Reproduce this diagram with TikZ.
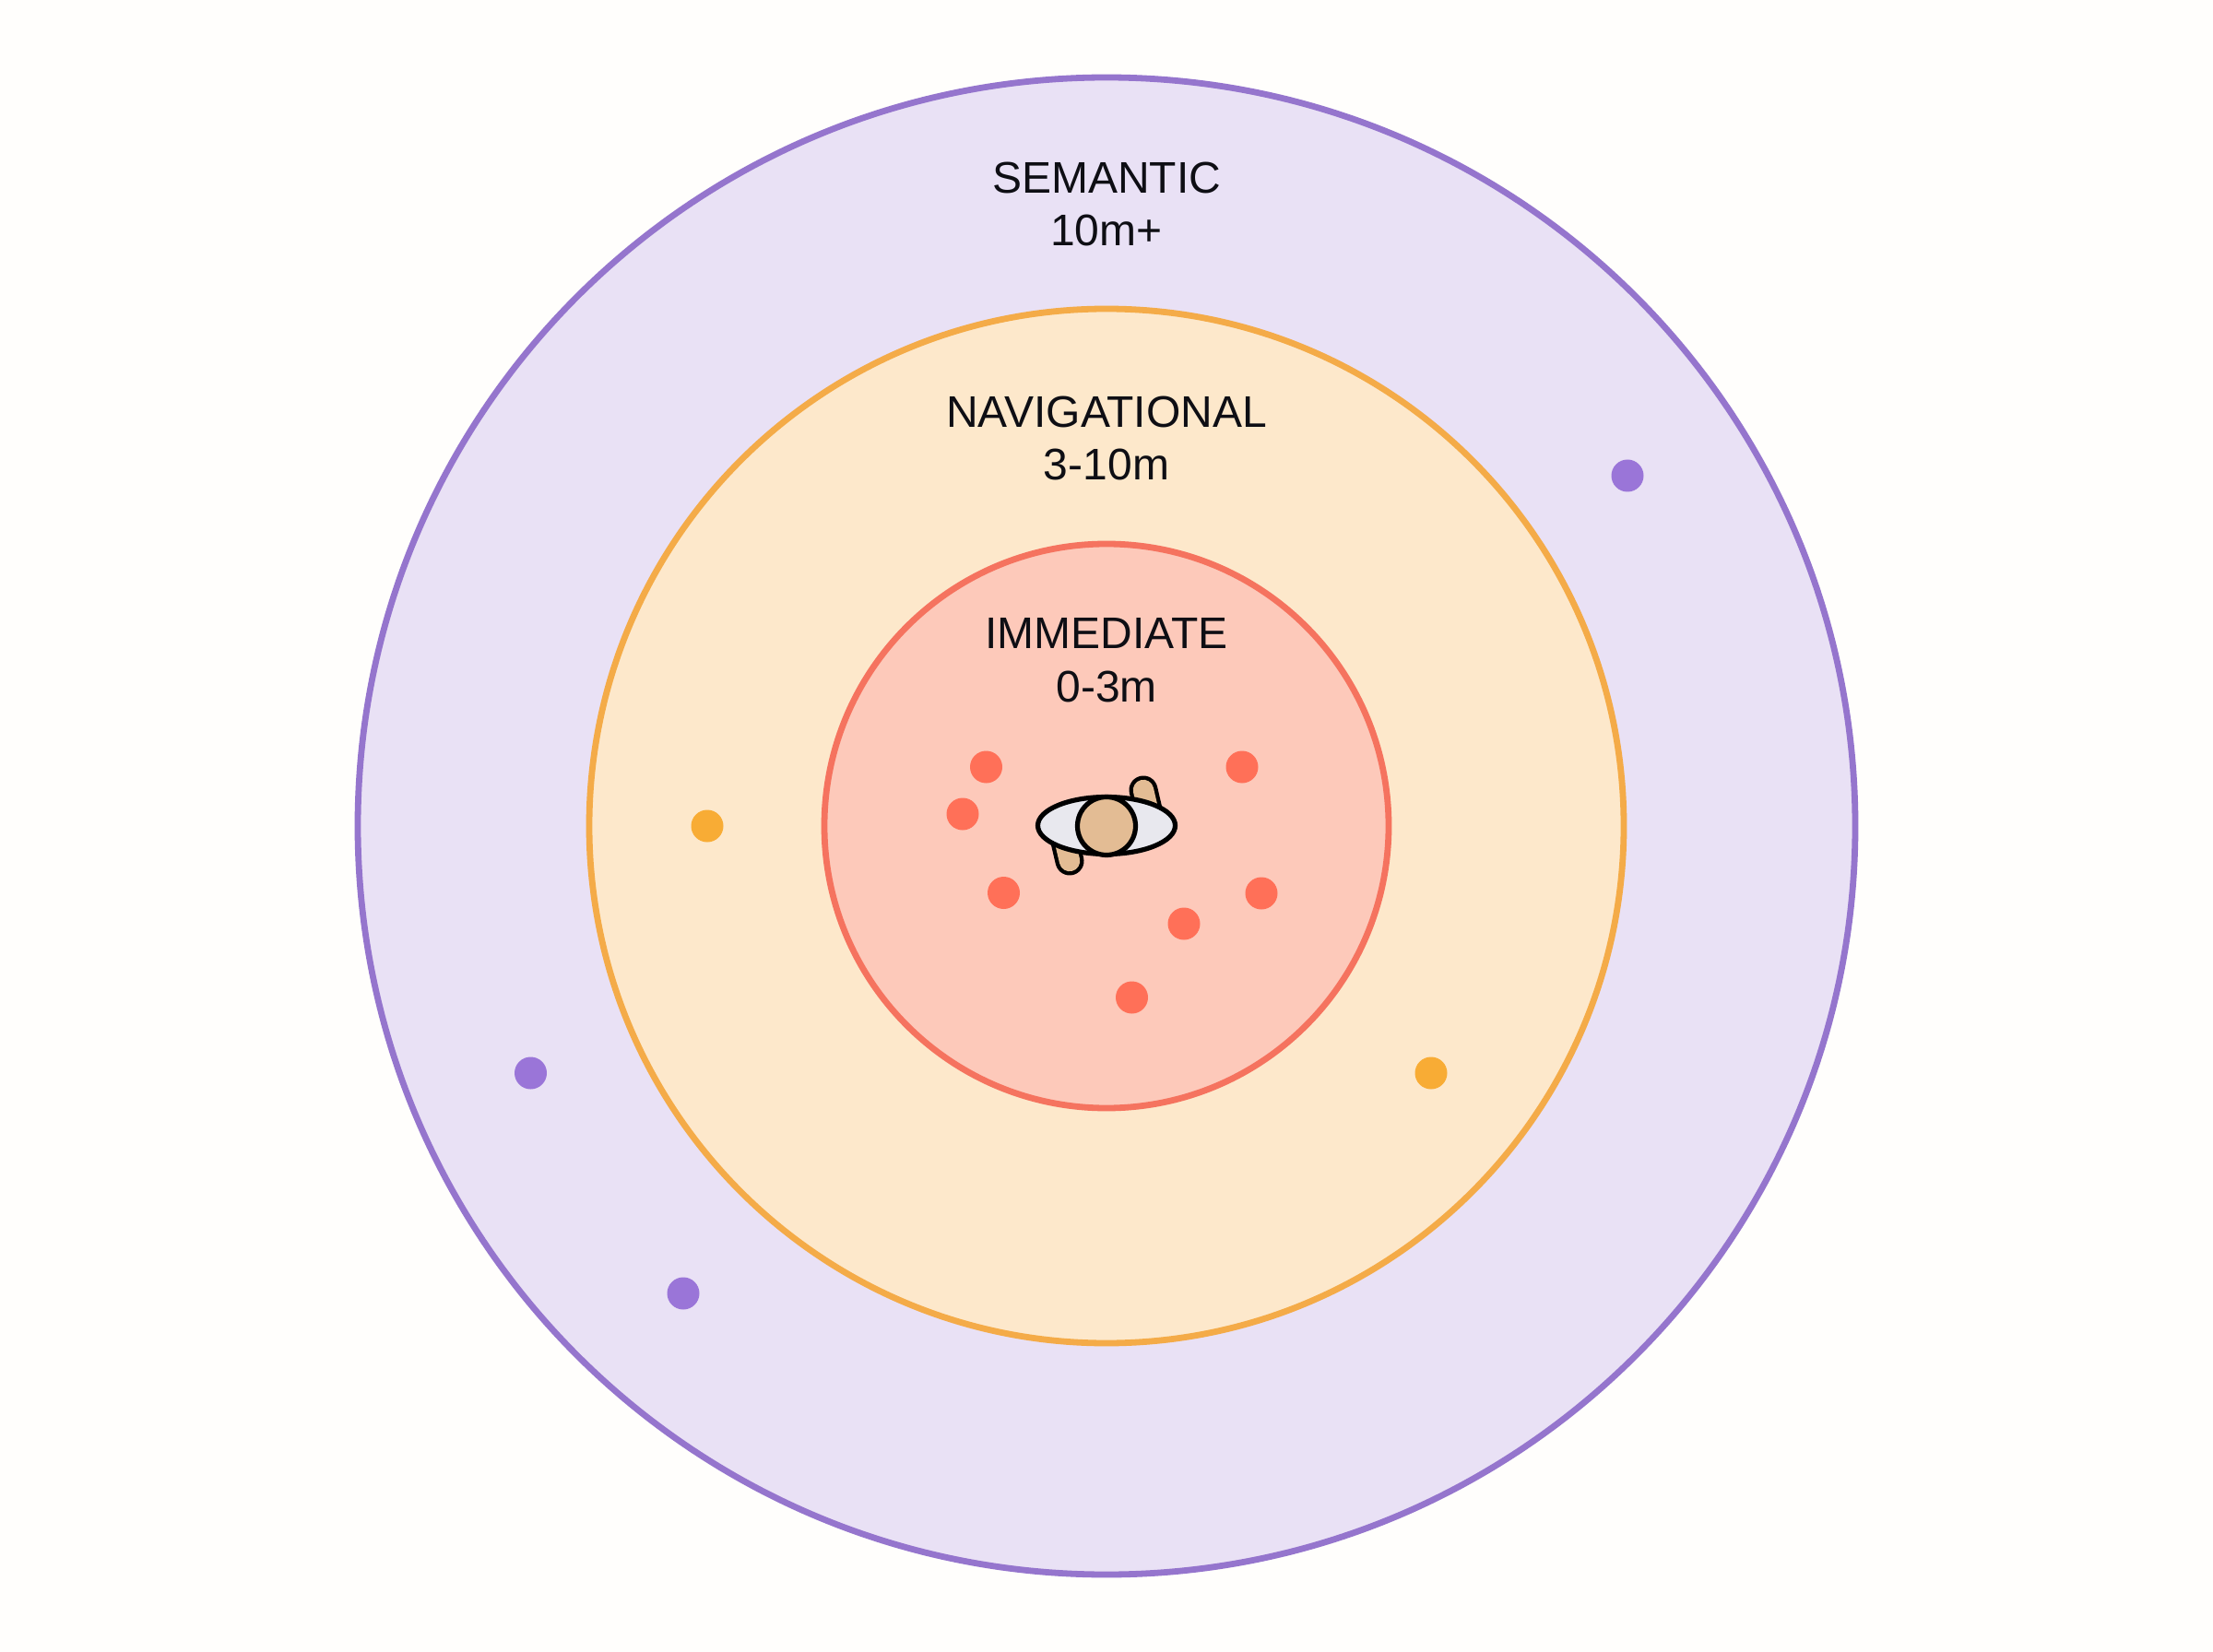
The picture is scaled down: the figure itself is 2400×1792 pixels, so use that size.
\documentclass[tikz,border=0pt]{standalone}
\usepackage{fontspec}
\setmainfont{Liberation Sans}
\definecolor{pageBg}{HTML}{FFFEFC}
\definecolor{purpleFill}{HTML}{E9E1F5}
\definecolor{purpleLine}{HTML}{9575CD}
\definecolor{orangeFill}{HTML}{FDE8CB}
\definecolor{orangeLine}{HTML}{F4AB48}
\definecolor{redFill}{HTML}{FDC9BA}
\definecolor{redLine}{HTML}{F5735F}
\definecolor{redDot}{HTML}{FF7058}
\definecolor{orangeDot}{HTML}{F8AC35}
\definecolor{purpleDot}{HTML}{9A75D8}
\definecolor{skin}{HTML}{E3BC94}
\definecolor{bodyFill}{HTML}{E8E8EE}
\definecolor{ink}{HTML}{0E0E14}
\tikzset{
  ring/.style={circle,inner sep=0pt,outer sep=0pt,line width=3.4pt},
  dot/.style={circle,inner sep=0pt,outer sep=0pt,minimum size=17.5pt},
  reddot/.style={dot,fill=redDot},
  orangedot/.style={dot,fill=orangeDot},
  purpledot/.style={dot,fill=purpleDot},
  zonelabel/.style={align=center,anchor=base,inner sep=0pt,text=ink,font=\fontsize{24}{28.7}\selectfont},
  outline/.style={draw=black,line width=2.6pt},
}
\begin{document}
\begin{tikzpicture}[x=0.5pt,y=-0.5pt]
\useasboundingbox (0,0) rectangle (2400,1792);
\fill[pageBg] (0,0) rectangle (2400,1792);
% zones
\node[ring,draw=purpleLine,fill=purpleFill,minimum size=812pt] (semantic) at (1200,896) {};
\node[ring,draw=orangeLine,fill=orangeFill,minimum size=561pt] (navigational) at (1200,896) {};
\node[ring,draw=redLine,fill=redFill,minimum size=306pt] (immediate) at (1200,896) {};
% labels (anchored on the baseline of their last line)
\node[zonelabel] (semanticlabel) at (1200,267) {SEMANTIC\\10m+};
\node[zonelabel] (navlabel) at (1200,521) {NAVIGATIONAL\\3-10m};
\node[zonelabel] (immlabel) at (1200,761) {IMMEDIATE\\0-3m};
% objects
\node[reddot] (r1) at (1069.5,832) {};
\node[reddot] (r2) at (1044,883) {};
\node[reddot] (r3) at (1088.5,968.5) {};
\node[reddot] (r4) at (1347,832) {};
\node[reddot] (r5) at (1368,969) {};
\node[reddot] (r6) at (1284,1002) {};
\node[reddot] (r7) at (1227.5,1082) {};
\node[orangedot] (o1) at (767,896) {};
\node[orangedot] (o2) at (1552,1164) {};
\node[purpledot] (p1) at (1765,516) {};
\node[purpledot] (p2) at (575.5,1164) {};
\node[purpledot] (p3) at (741,1403) {};
% person seen from above
\draw[black,line width=15.5pt,line cap=round] (1240,857) -- (1250,900);
\draw[skin,line width=11.2pt,line cap=round] (1240,857) -- (1250,900);
\draw[black,line width=15.5pt,line cap=round] (1160,934) -- (1150,892);
\draw[skin,line width=11.2pt,line cap=round] (1160,934) -- (1150,892);
\draw[outline,fill=bodyFill] (1200,895.5) ellipse [x radius=74.5,y radius=31];
\node[circle,outline,fill=skin,inner sep=0pt,minimum size=31.5pt] (head) at (1200,896) {};
\end{tikzpicture}
\end{document}
